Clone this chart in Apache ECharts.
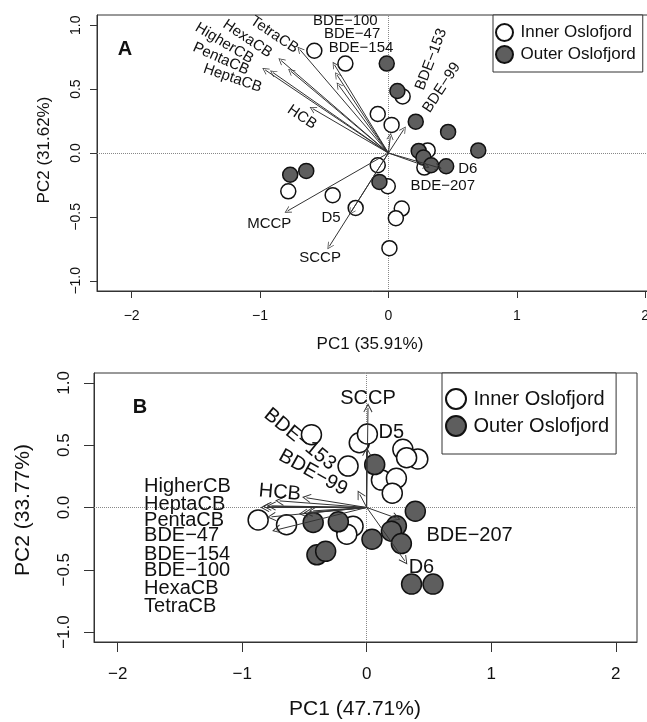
<!DOCTYPE html>
<html>
<head>
<meta charset="utf-8">
<script src="https://cdn.jsdelivr.net/npm/echarts@6/dist/echarts.min.js"></script>
<style>
html, body { margin: 0; padding: 0; background: #fff; }
#main { width: 647px; height: 722px; }
</style>
</head>
<body>
<div id="main"></div>
<script>
// ---- data ----
var seriesNames = ['Inner Oslofjord', 'Outer Oslofjord'];
var xTicks = [-2, -1, 0, 1, 2];
var yTicks = [-1, -0.5, 0, 0.5, 1];

// panel A : PCA scores
var innerA = [[-0.577, 0.80], [-0.335, 0.70], [0.111, 0.443], [-0.083, 0.305], [0.025, 0.22],
    [0.306, 0.02], [0.28, -0.114], [-0.083, -0.096], [-0.005, -0.26], [-0.78, -0.30],
    [-0.434, -0.33], [-0.255, -0.43], [0.104, -0.435], [0.058, -0.51], [0.008, -0.745]];
var outerA = [[-0.013, 0.70], [0.07, 0.485], [0.213, 0.245], [0.465, 0.165], [0.236, 0.016],
    [0.273, -0.036], [0.333, -0.096], [0.45, -0.104], [0.70, 0.02], [-0.765, -0.17],
    [-0.64, -0.14], [-0.07, -0.226]];
// panel A : loadings
var varsA = ['TetraCB', 'HexaCB', 'HigherCB', 'PentaCB', 'HeptaCB', 'HCB', 'BDE−100', 'BDE−47',
    'BDE−154', 'BDE−153', 'BDE−99', 'D6', 'BDE−207', 'MCCP', 'D5', 'SCCP'];
var loadA = [[-0.69, 0.81], [-0.836, 0.724], [-0.76, 0.64], [-0.96, 0.65], [-0.90, 0.63],
    [-0.59, 0.347], [-0.42, 0.69], [-0.40, 0.61], [-0.387, 0.53], [0.015, 0.13], [0.12, 0.185],
    [0.39, -0.114], [0.294, -0.104], [-0.785, -0.453], [-0.29, -0.46], [-0.46, -0.73]];

// panel B : PCA scores
var innerB = [[-0.444, 0.585], [-0.06, 0.52], [0.005, 0.59], [0.29, 0.467], [0.41, 0.39],
    [0.32, 0.40], [-0.15, 0.333], [0.118, 0.22], [0.238, 0.235], [0.205, 0.115],
    [-0.872, -0.10], [-0.644, -0.138], [-0.17, -0.16], [-0.11, -0.15], [-0.16, -0.214]];
var outerB = [[0.064, 0.345], [0.39, -0.03], [-0.43, -0.12], [-0.228, -0.115], [0.042, -0.255],
    [0.238, -0.147], [0.198, -0.19], [0.278, -0.29], [-0.40, -0.38], [-0.33, -0.352],
    [0.36, -0.615], [0.532, -0.615]];
// panel B : loadings
var varsB = ['SCCP', 'D5', 'BDE−153', 'BDE−99', 'HCB', 'HigherCB', 'HeptaCB', 'PentaCB',
    'BDE−47', 'BDE−154', 'BDE−100', 'HexaCB', 'TetraCB', 'BDE−207', 'D6'];
var loadB = [[0.01, 0.80], [0, 0.45], [-0.484, 0.078], [-0.056, 0.105], [-0.70, 0.053],
    [-0.80, 0.01], [-0.818, 0], [-0.765, 0.013], [-0.47, -0.04], [-0.43, -0.027],
    [-0.51, -0.048], [-0.765, -0.075], [-0.725, -0.18], [0.238, -0.085], [0.305, -0.428]];

// ---- label layout (where the variable names sit, in axis units) ----
var labelAtA = [[-0.889, 0.925], [-1.097, 0.894], [-1.278, 0.859], [-1.304, 0.737], [-1.214, 0.586],
    [-0.673, 0.281], [-0.335, 1.031], [-0.283, 0.933], [-0.213, 0.82], [0.333, 0.732],
    [0.415, 0.511], [0.618, -0.122], [0.423, -0.26], [-0.928, -0.557], [-0.447, -0.505],
    [-0.532, -0.817]];
var labelRotA = [-34, -34, -31, -24, -19, -34, 0, 0, 0, 69, 57, 0, 0, 0, 0, 0];
var labelAtB = [[0.01, 0.873], [0.198, 0.601], [-0.537, 0.547], [-0.431, 0.28], [-0.698, 0.12],
    [-1.788, 0.168], [-1.788, 0.026], [-1.788, -0.107], [-1.788, -0.228], [-1.788, -0.374],
    [-1.788, -0.508], [-1.788, -0.649], [-1.788, -0.793], [0.826, -0.222], [0.439, -0.481]];
var labelRotB = [0, 0, -39, -29, -5, 0, 0, 0, 0, 0, 0, 0, 0, 0, 0];
var labelLeftB = [false, false, false, false, false, true, true, true, true, true, true, true, true, false, false];

// ---- helpers ----
var FONT = 'Liberation Sans, Arial, Helvetica, sans-serif';
var chevron = 'path://M0,0 L-5,9 L-4.2,9.6 L0,2.2 L4.2,9.6 L5,9 Z';

function fmt(v, dec) {
    return (v < 0 ? '−' : '') + Math.abs(v).toFixed(dec);
}

function makeAxis(gridIndex, min, max, ticks, dec, fontSize, margin, tickLen, rotate) {
    return {
        type: 'value', gridIndex: gridIndex, min: min, max: max,
        axisLine: { show: true, onZero: false, lineStyle: { color: '#333', width: 1 } },
        axisTick: { show: true, inside: false, length: tickLen, customValues: ticks,
            lineStyle: { color: '#333', width: 1 } },
        axisLabel: { show: true, customValues: ticks, margin: margin, rotate: rotate,
            color: '#111', fontSize: fontSize, fontFamily: FONT,
            formatter: function (v) { return fmt(v, dec); } },
        splitLine: { show: false }
    };
}

function scoreSeries(name, data, idx, filled) {
    return {
        name: name, type: 'scatter', xAxisIndex: idx, yAxisIndex: idx,
        data: data, symbol: 'circle', symbolSize: idx === 0 ? 15 : 20, z: filled ? 3 : 2,
        itemStyle: { color: filled ? '#5e5e5e' : '#ffffff', borderColor: '#111',
            borderWidth: 1.5, opacity: 1 },
        emphasis: { disabled: true }
    };
}

function arrowSeries(ends, idx) {
    return {
        type: 'lines', coordinateSystem: 'cartesian2d', xAxisIndex: idx, yAxisIndex: idx,
        z: 4, silent: true,
        symbol: ['none', chevron], symbolSize: idx === 0 ? 7 : 9,
        lineStyle: { color: '#333', width: 1, opacity: 1 },
        data: ends.map(function (e) { return { coords: [[0, 0], e] }; })
    };
}

function labelSeries(names, spots, rots, idx, fontSize, leftFlags) {
    return {
        type: 'scatter', xAxisIndex: idx, yAxisIndex: idx, symbolSize: 0, z: 5, silent: true,
        itemStyle: { color: '#111', opacity: 1 },
        data: names.map(function (n, i) {
            var left = leftFlags && leftFlags[i];
            return {
                name: n, value: spots[i],
                label: { rotate: rots[i], position: left ? 'right' : 'inside', distance: 0 }
            };
        }),
        label: { show: true, formatter: '{b}', color: '#111', opacity: 1, fontSize: fontSize,
            fontFamily: FONT, textBorderWidth: 0, textBorderColor: 'transparent' }
    };
}

function zeroLines(idx) {
    return {
        type: 'scatter', xAxisIndex: idx, yAxisIndex: idx, data: [], z: 1, silent: true,
        markLine: {
            silent: true, symbol: 'none', z: 1, label: { show: false },
            lineStyle: { type: 'dotted', color: '#888', width: 1 },
            data: [{ xAxis: 0 }, { yAxis: 0 }]
        }
    };
}

function legend(left, top, fontSize, iw, ih, gap, pad) {
    return {
        data: seriesNames, orient: 'vertical', left: left, top: top, icon: 'circle',
        itemWidth: iw, itemHeight: ih, itemGap: gap, padding: pad,
        borderColor: '#333', borderWidth: 1, borderRadius: 0, backgroundColor: '#fff',
        selectedMode: false,
        textStyle: { fontSize: fontSize, fontFamily: FONT, color: '#111' }
    };
}

function text(str, x, y, size, rot, bold) {
    return {
        type: 'text', x: x, y: y, rotation: rot ? Math.PI / 2 : 0, z: 10,
        style: { text: str, fill: '#111', font: (bold ? 'bold ' : '') + size + 'px ' + FONT,
            textAlign: 'center', textVerticalAlign: 'middle' }
    };
}

var chart = echarts.init(document.getElementById('main'), null, { renderer: 'canvas' });
var option = {
    animation: false,
    backgroundColor: '#fff',
    grid: [
        { left: 97, top: 15, width: 552, height: 276, show: true, borderColor: '#333',
            borderWidth: 1, outerBoundsMode: 'none' },
        { left: 94, top: 373, width: 543, height: 269, show: true, borderColor: '#333',
            borderWidth: 1, outerBoundsMode: 'none' }
    ],
    xAxis: [
        makeAxis(0, -2.27, 2.03, xTicks, 0, 14, 18, 7, 0),
        makeAxis(1, -2.19, 2.17, xTicks, 0, 17, 24, 10, 0)
    ],
    yAxis: [
        makeAxis(0, -1.08, 1.08, yTicks, 1, 14, 14, 7, 90),
        makeAxis(1, -1.08, 1.08, yTicks, 1, 17, 21, 10, 90)
    ],
    legend: [
        legend(493, 15, 17, 22, 17, 3, [8, 7, 8, 2]),
        legend(442, 373, 20, 25, 20, 5, [15, 7, 17, 3])
    ],
    graphic: [
        text('A', 125, 49, 20, false, true),
        text('B', 140, 407, 20, false, true),
        text('PC1 (35.91%)', 370, 344, 17),
        text('PC2 (31.62%)', 44, 150, 17, true),
        text('PC1 (47.71%)', 355, 709, 21),
        text('PC2 (33.77%)', 23, 510, 21, true)
    ],
    series: [
        zeroLines(0),
        scoreSeries(seriesNames[0], innerA, 0, false),
        scoreSeries(seriesNames[1], outerA, 0, true),
        arrowSeries(loadA, 0),
        labelSeries(varsA, labelAtA, labelRotA, 0, 15),
        zeroLines(1),
        scoreSeries(seriesNames[0], innerB, 1, false),
        scoreSeries(seriesNames[1], outerB, 1, true),
        arrowSeries(loadB, 1),
        labelSeries(varsB, labelAtB, labelRotB, 1, 20, labelLeftB)
    ]
};
chart.setOption(option);
</script>
</body>
</html>
